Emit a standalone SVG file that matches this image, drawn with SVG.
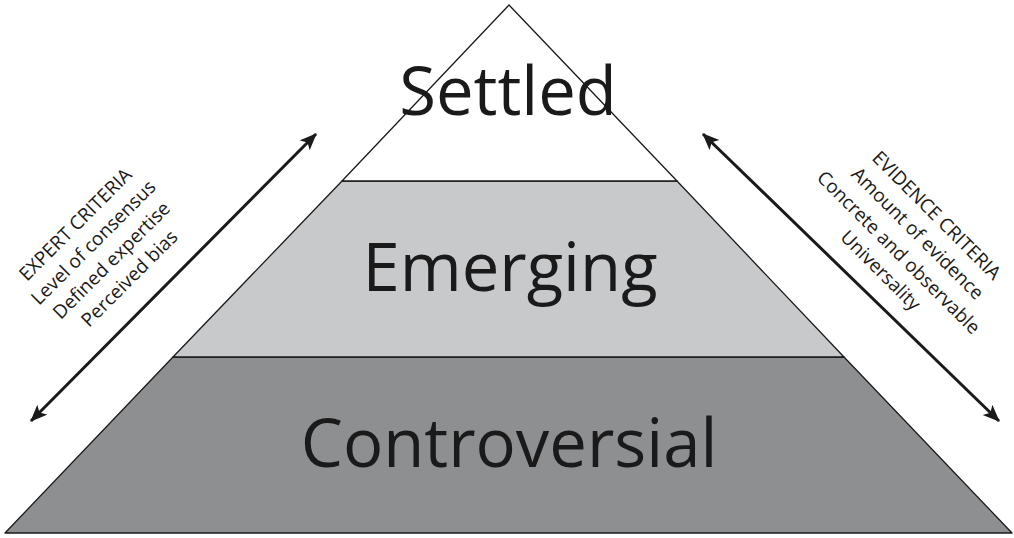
<svg xmlns="http://www.w3.org/2000/svg" width="1014" height="538" viewBox="0 0 1014 538">
<style>
.tier{stroke:#1a1a1a;stroke-width:1.3;stroke-linejoin:round}
.big{font-family:"Open Sans","Liberation Sans",sans-serif;font-size:67px;fill:#1a1a1a;text-anchor:middle}
.side{font-family:"Open Sans","Liberation Sans",sans-serif;font-size:19px;fill:#1a1a1a;text-anchor:middle}
.arrow{stroke:#1a1a1a;stroke-width:3;fill:none;marker-start:url(#ah);marker-end:url(#ah)}
</style>
<defs>
<marker id="ah" markerUnits="userSpaceOnUse" markerWidth="20" markerHeight="16" refX="16" refY="7" orient="auto-start-reverse">
<path d="M0,0 L17,7 L0,14 L4,7 Z" fill="#1a1a1a"/>
</marker>
</defs>
<rect width="1014" height="538" fill="#ffffff"/>
<g id="controversial">
<polygon class="tier" points="173,357 844,357 1012,533 5,533" fill="#8e8f91"/>
<text class="big" x="509" y="467">Controversial</text>
</g>
<g id="emerging">
<polygon class="tier" points="342,181 677,181 844,357 173,357" fill="#c8c9cb"/>
<text class="big" x="510" y="291">Emerging</text>
</g>
<g id="settled">
<polygon class="tier" points="509,5 677,181 342,181" fill="#ffffff"/>
<text class="big" x="508" y="115">Settled</text>
</g>
<g id="connectors">
<line class="arrow" x1="31" y1="421" x2="316" y2="134"/>
<line class="arrow" x1="703" y1="134" x2="999" y2="421"/>
</g>
<g id="expert-criteria">
<text class="side" transform="translate(80,229) rotate(-45)">EXPERT CRITERIA</text>
<text class="side" transform="translate(98,247) rotate(-45)">Level of consensus</text>
<text class="side" transform="translate(116,265) rotate(-45)">Defined expertise</text>
<text class="side" transform="translate(134,283) rotate(-45)">Perceived bias</text>
</g>
<g id="evidence-criteria">
<text class="side" transform="translate(932,220) rotate(45)">EVIDENCE CRITERIA</text>
<text class="side" transform="translate(913,238) rotate(45)">Amount of evidence</text>
<text class="side" transform="translate(894,257) rotate(45)">Concrete and observable</text>
<text class="side" transform="translate(876,275) rotate(45)">Universality</text>
</g>
</svg>
